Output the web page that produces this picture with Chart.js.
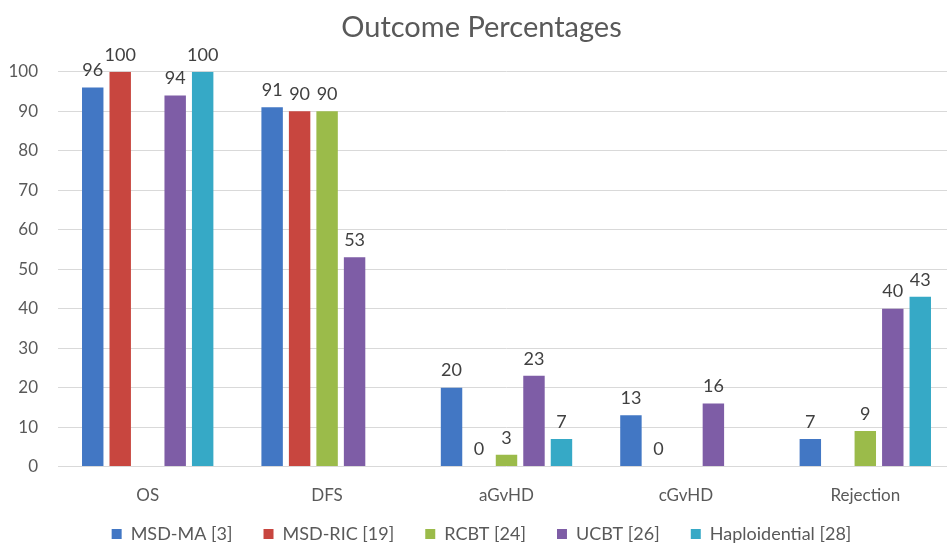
<!DOCTYPE html>
<html>
<head>
<meta charset="utf-8">
<script src="https://cdn.jsdelivr.net/npm/chart.js@4.4.1/dist/chart.umd.min.js"></script>
<style>
  body { margin: 0; background: #fff; overflow: hidden; }
  #wrap { width: 970px; height: 551px; }
</style>
</head>
<body>
<div id="wrap"><canvas id="grafica"></canvas></div>
<script>
const categorias = ['OS', 'DFS', 'aGvHD', 'cGvHD', 'Rejection'];
const msdMA = [96, 91, 20, 13, 7];
const msdRIC = [100, 90, 0, 0, null];
const rcbt = [null, 90, 3, null, 9];
const ucbt = [94, 53, 23, 16, 40];
const haplo = [100, null, 7, null, 43];
const ticksY = [0, 10, 20, 30, 40, 50, 60, 70, 80, 90, 100];

const fuente = "Lato, 'Open Sans', sans-serif";

// numbers above each bar
const etiquetas = {
    id: 'etiquetas',
    afterDatasetsDraw(chart) {
        const ctx = chart.ctx;
        ctx.save();
        ctx.font = '18px ' + fuente;
        ctx.fillStyle = '#404040';
        ctx.textAlign = 'center';
        ctx.textBaseline = 'bottom';
        chart.data.datasets.forEach((ds, i) => {
            const meta = chart.getDatasetMeta(i);
            meta.data.forEach((bar, j) => {
                const v = ds.data[j];
                if (v === null || v === undefined) return;
                ctx.fillText(String(v), bar.x, bar.y - 8);
            });
        });
        ctx.restore();
    }
};

// legend padding is small vertically, so widen the gap between items with spaces
function etiquetasLeyenda(chart) {
    const items = Chart.defaults.plugins.legend.labels.generateLabels(chart);
    return items.map((it, i) => {
        if (i < items.length - 1) it.text = it.text + '     ';
        return it;
    });
}

new Chart(document.getElementById('grafica'), {
    type: 'bar',
    data: {
        labels: categorias,
        datasets: [
            { label: 'MSD-MA [3]', data: msdMA, backgroundColor: '#4277C4' },
            { label: 'MSD-RIC [19]', data: msdRIC, backgroundColor: '#C8463F' },
            { label: 'RCBT [24]', data: rcbt, backgroundColor: '#9BBB4A' },
            { label: 'UCBT [26]', data: ucbt, backgroundColor: '#7E5DA6' },
            { label: 'Haploidential [28]', data: haplo, backgroundColor: '#36A9C6' }
        ]
    },
    options: {
        responsive: true,
        maintainAspectRatio: false,
        animation: false,
        categoryPercentage: 0.766,
        barPercentage: 0.78,
        layout: { padding: { left: 8, right: 15, top: 10, bottom: -2 } },
        plugins: {
            title: {
                display: true,
                text: 'Outcome Percentages',
                color: '#595959',
                font: { family: fuente, size: 29, weight: 'normal' },
                padding: { top: 0, bottom: 27 }
            },
            legend: {
                position: 'bottom',
                labels: {
                    color: '#595959',
                    font: { family: fuente, size: 18 },
                    boxWidth: 10,
                    boxHeight: 10,
                    padding: 8,
                    generateLabels: etiquetasLeyenda
                }
            },
            tooltip: { enabled: false }
        },
        scales: {
            x: {
                grid: { display: false },
                border: { display: false },
                ticks: { color: '#595959', font: { family: fuente, size: 17 }, padding: 11 }
            },
            y: {
                min: 0,
                max: 100,
                afterBuildTicks: axis => { axis.ticks = ticksY.map(v => ({ value: v })); },
                afterFit: axis => { axis.width = 50; },
                grid: { color: '#D9D9D9', drawTicks: false },
                border: { display: false },
                ticks: { color: '#595959', font: { family: fuente, size: 17 }, padding: 20 }
            }
        }
    },
    plugins: [etiquetas]
});
</script>
</body>
</html>
